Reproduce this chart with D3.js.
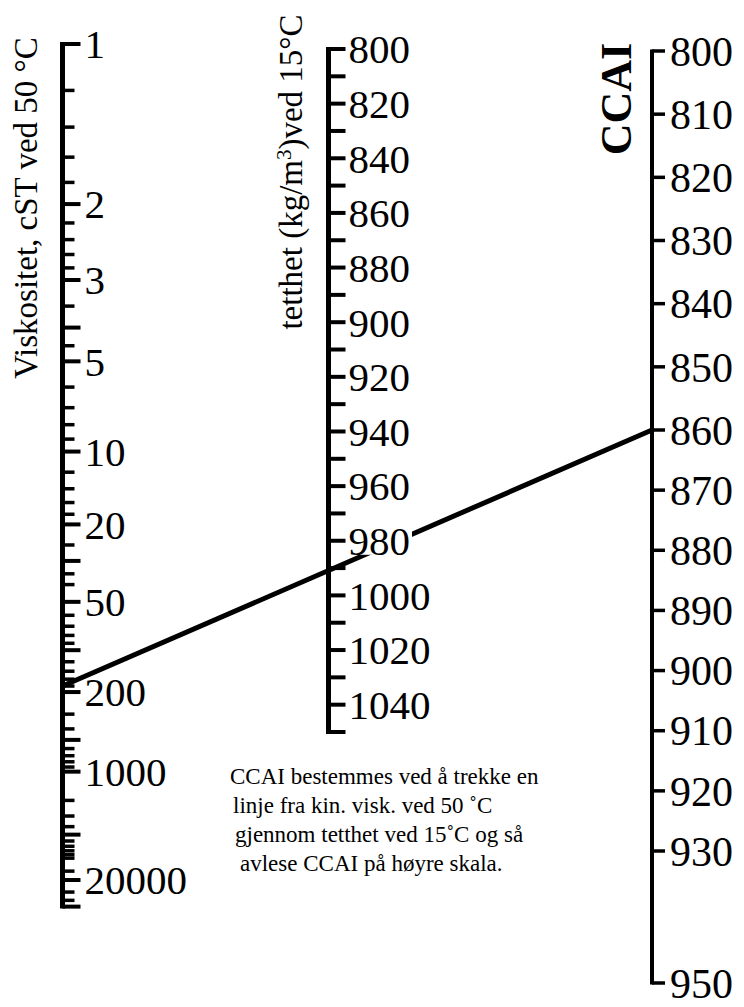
<!DOCTYPE html>
<html><head><meta charset="utf-8">
<script src="https://cdn.jsdelivr.net/npm/d3@7"></script>
<style>
body{margin:0;background:#fff}
svg{display:block}
svg text{font-family:"Liberation Serif","DejaVu Serif","Times New Roman",serif;fill:#000}
</style>
</head><body>
<script>
// ---- data ----
const viscLabels = [1, 2, 3, 5, 10, 20, 50, 200, 1000, 20000];
const viscLongTicks = [4, 30, 100, 500, 5000];
const viscMinorTicks = [1.2, 1.4, 1.6, 1.8, 2.2, 2.4, 2.6, 2.8, 3.5, 4.5, 6, 7, 8, 9,
  12, 14, 16, 18, 25, 35, 40, 60, 70, 80, 90, 120, 140, 160, 180,
  300, 400, 600, 700, 800, 900, 2000, 3000, 4000, 6000, 7000, 8000, 9000,
  10000, 15000, 30000, 40000];
const viscRange = [1, 50000];

const densLabels = [800, 820, 840, 860, 880, 900, 920, 940, 960, 980, 1000, 1020, 1040];
const densMinorTicks = [810, 830, 850, 870, 890, 910, 930, 950, 970, 990, 1010, 1030, 1050];
const densRange = [800, 1050];

const ccaiLabels = [800, 810, 820, 830, 840, 850, 860, 870, 880, 890, 900, 910, 920, 930, 950];
const ccaiRange = [800, 950];

const exampleVisc = 180;
const exampleCCAI = 860;

const noteLines = [
  "CCAI bestemmes ved å trekke en",
  "linje fra kin. visk. ved 50 \u02DAC",
  "gjennom tetthet ved 15\u02DAC og så",
  "avlese CCAI på høyre skala."
];

// ---- drawing ----
const W = 744, H = 1007;
const svg = d3.select("body").append("svg").attr("width", W).attr("height", H);

const xL = 62.5, xM = 328.5, xR = 652;

const ll = v => Math.log10(Math.log10(v + 0.85));
const yViscT = d3.scaleLinear().domain([ll(1), ll(20000)]).range([44, 880]);
const yVisc = v => yViscT(ll(v));
const yDens = d3.scaleLinear().domain(densRange).range([49, 732]);
const yCCAI = d3.scaleLinear().domain([800, 860, 930, 950]).range([51, 430, 851, 983]);

// example line
svg.append("line")
  .attr("x1", xL).attr("y1", yVisc(exampleVisc))
  .attr("x2", xR).attr("y2", yCCAI(exampleCCAI))
  .attr("stroke", "#000").attr("stroke-width", 5).attr("stroke-linecap", "round");

// left axis
const gL = svg.append("g");
gL.append("line").attr("x1", xL).attr("x2", xL)
  .attr("y1", yVisc(viscRange[0]) - 2).attr("y2", yVisc(viscRange[1]) + 2)
  .attr("stroke", "#000").attr("stroke-width", 5);
gL.selectAll(".mn").data(viscMinorTicks).join("line")
  .attr("x1", xL).attr("x2", xL + 12)
  .attr("y1", d => yVisc(d)).attr("y2", d => yVisc(d))
  .attr("stroke", "#000").attr("stroke-width", 3.5);
gL.selectAll(".lg").data(viscLongTicks.concat(viscLabels, [viscRange[1]])).join("line")
  .attr("x1", xL).attr("x2", xL + 18)
  .attr("y1", d => yVisc(d)).attr("y2", d => yVisc(d))
  .attr("stroke", "#000").attr("stroke-width", 4);
gL.selectAll("text").data(viscLabels).join("text")
  .attr("x", xL + 22).attr("y", d => yVisc(d))
  .attr("dy", "0.35em")
  .attr("font-size", 41)
  .text(d => d);
svg.append("text")
  .attr("transform", `translate(37,208) rotate(-90)`)
  .attr("text-anchor", "middle")
  .attr("font-size", 33)
  .text("Viskositet, cST ved 50 \u00B0C");

// middle axis
const gM = svg.append("g");
gM.append("line").attr("x1", xM).attr("x2", xM)
  .attr("y1", yDens(densRange[0]) - 2).attr("y2", yDens(densRange[1]) + 2)
  .attr("stroke", "#000").attr("stroke-width", 5);
gM.selectAll("line.t").data(densLabels.concat(densMinorTicks)).join("line")
  .attr("class", "t")
  .attr("x1", xM).attr("x2", xM + 17)
  .attr("y1", d => yDens(d)).attr("y2", d => yDens(d))
  .attr("stroke", "#000").attr("stroke-width", 4);
const mLab = gM.selectAll("g.lab").data(densLabels).join("g").attr("class", "lab");
mLab.append("rect")
  .attr("x", xM + 20).attr("y", d => yDens(d) - 16)
  .attr("width", d => String(d).length * 20.5 + 2).attr("height", 30)
  .attr("fill", "#fff");
mLab.append("text")
  .attr("x", xM + 20).attr("y", d => yDens(d))
  .attr("dy", "0.35em")
  .attr("font-size", 41)
  .text(d => d);
const tm = svg.append("text")
  .attr("transform", `translate(302,172) rotate(-90)`)
  .attr("text-anchor", "middle")
  .attr("font-size", 33);
tm.append("tspan").text("tetthet (kg/m");
tm.append("tspan").attr("dy", -11).attr("font-size", 21).text("3");
tm.append("tspan").attr("dy", 11).text(")ved 15\u00B0C");

// right axis
const gR = svg.append("g");
gR.append("line").attr("x1", xR).attr("x2", xR)
  .attr("y1", yCCAI(ccaiRange[0]) - 1.5).attr("y2", yCCAI(ccaiRange[1]) + 1.5)
  .attr("stroke", "#000").attr("stroke-width", 4);
gR.selectAll("line.t").data(ccaiLabels).join("line")
  .attr("class", "t")
  .attr("x1", xR).attr("x2", xR + 13)
  .attr("y1", d => yCCAI(d)).attr("y2", d => yCCAI(d))
  .attr("stroke", "#000").attr("stroke-width", 3.5);
gR.selectAll("text").data(ccaiLabels).join("text")
  .attr("x", xR + 18).attr("y", d => yCCAI(d))
  .attr("dy", "0.35em")
  .attr("font-size", 42)
  .text(d => d);
svg.append("text")
  .attr("transform", `translate(631,99) rotate(-90)`)
  .attr("text-anchor", "middle")
  .attr("font-size", 44).attr("font-weight", "bold")
  .text("CCAI");

// note
svg.append("g").selectAll("text").data(noteLines).join("text")
  .attr("x", (d, i) => [230, 233, 235, 240][i])
  .attr("y", (d, i) => 784 + i * 29)
  .attr("font-size", 23)
  .text(d => d);
</script>
</body></html>
